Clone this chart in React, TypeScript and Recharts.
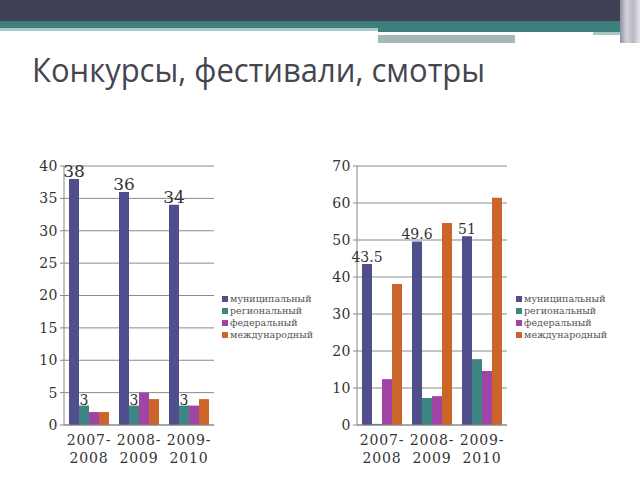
import { BarChart, Bar, XAxis, YAxis, CartesianGrid, Legend, LabelList } from 'recharts';

// categories (school years)
const years = ['2007-2008', '2008-2009', '2009-2010'];

// left chart: number of contests
const munCount = [38, 36, 34];
const regCount = [3, 3, 3];
const fedCount = [2, 5, 3];
const intCount = [2, 4, 4];
const leftTicks = [0, 5, 10, 15, 20, 25, 30, 35, 40];

// right chart: share / participants
const munShare = [43.5, 49.6, 51];
const regShare = [0.3, 7.3, 17.8];
const fedShare = [12.4, 7.8, 14.6];
const intShare = [38.1, 54.6, 61.4];
const rightTicks = [0, 10, 20, 30, 40, 50, 60, 70];

const seriesNames = ['муниципальный', 'региональный', 'федеральный', 'международный'];
const COLORS = ['#4f4f8b', '#3f8584', '#a045a6', '#cb652a'];

const leftData = years.map((y, i) => ({ year: y, mun: munCount[i], reg: regCount[i], fed: fedCount[i], int: intCount[i] }));
const rightData = years.map((y, i) => ({ year: y, mun: munShare[i], reg: regShare[i], fed: fedShare[i], int: intShare[i] }));

const serif = '"DejaVu Serif", serif';

function YearTick({ x, y, payload }: any) {
  const v: string = payload.value;
  const cut = v.indexOf('-') + 1;
  return (
    <text x={x} y={y} textAnchor="middle" style={{ fontFamily: serif, fontWeight: 300 }} fontSize={14} fill="#333" letterSpacing={0.8}>
      <tspan x={x} dy={12}>{v.slice(0, cut)}</tspan>
      <tspan x={x} dy={18}>{v.slice(cut)}</tspan>
    </text>
  );
}

function LegendBox() {
  return (
    <div style={{ fontFamily: serif, fontSize: 9.5, color: '#555', lineHeight: '12px' }}>
      {seriesNames.map((n, i) => (
        <div key={n} style={{ display: 'flex', alignItems: 'center', whiteSpace: 'nowrap' }}>
          <span style={{ width: 6, height: 6, background: COLORS[i], marginRight: 2, display: 'inline-block' }} />
          {n}
        </div>
      ))}
    </div>
  );
}

function Chart({ data, ticks, max, yWidth, legendLeft, bigLabel, smallLabels }: any) {
  return (
    <BarChart width={320} height={340} data={data} barCategoryGap="10%" barGap={0}
      margin={{ top: 26, right: 320 - yWidth - 150, bottom: 0, left: 0 }}>
      <CartesianGrid vertical={false} stroke="#8a8a8a" />
      <XAxis dataKey="year" height={55} tickLine={false} stroke="#888" tick={<YearTick />} interval={0} />
      <YAxis domain={[0, max]} ticks={ticks} width={yWidth} stroke="#888" tickSize={4}
        tick={{ style: { fontFamily: serif }, fontSize: 14, fill: '#333', letterSpacing: 0.5 }} />
      <Legend layout="vertical" align="center" verticalAlign="middle" content={<LegendBox />}
        wrapperStyle={{ left: legendLeft, top: 153, width: 100 }} />
      <Bar dataKey="mun" name={seriesNames[0]} fill={COLORS[0]} isAnimationActive={false}>
        <LabelList dataKey="mun" position="top" offset={2} style={{ fontFamily: serif }} fontSize={bigLabel} fill="#333" />
      </Bar>
      <Bar dataKey="reg" name={seriesNames[1]} fill={COLORS[1]} isAnimationActive={false}>
        {smallLabels && <LabelList dataKey="reg" position="top" offset={1} style={{ fontFamily: serif }} fontSize={14} fill="#333" />}
      </Bar>
      <Bar dataKey="fed" name={seriesNames[2]} fill={COLORS[2]} isAnimationActive={false} />
      <Bar dataKey="int" name={seriesNames[3]} fill={COLORS[3]} isAnimationActive={false} />
    </BarChart>
  );
}

function Header() {
  return (
    <>
      <div style={{ position: 'absolute', left: 0, top: 0, width: 620, height: 21, background: '#404156' }} />
      <div style={{ position: 'absolute', left: 620, top: 0, width: 20, height: 43, background: 'linear-gradient(90deg,#8f8fa0,#d4d4dc,#b8b8c4,#e6e6ec)' }} />
      <div style={{ position: 'absolute', left: 0, top: 21, width: 378, height: 7, background: '#3e7f7e' }} />
      <div style={{ position: 'absolute', left: 0, top: 28, width: 378, height: 3, background: '#abc8c7' }} />
      <div style={{ position: 'absolute', left: 378, top: 21, width: 242, height: 11, background: '#3e7f7e' }} />
      <div style={{ position: 'absolute', left: 378, top: 32, width: 215, height: 3, background: '#ffffff' }} />
      <div style={{ position: 'absolute', left: 593, top: 32, width: 27, height: 3, background: '#a8c8c8' }} />
      <div style={{ position: 'absolute', left: 378, top: 35, width: 137, height: 8, background: '#a3b9ba' }} />
    </>
  );
}

export default function App() {
  return (
    <div style={{ position: 'absolute', left: 0, top: 0, width: 640, height: 480, background: '#fff', overflow: 'hidden' }}>
      <Header />
      <svg style={{ position: 'absolute', left: 0, top: 0 }} width={640} height={100}>
        <text x={32} y={82} fontFamily='"Open Sans", sans-serif' fontSize={33} fill="#45454f"
          textLength={453} lengthAdjust="spacingAndGlyphs">Конкурсы, фестивали, смотры</text>
      </svg>
      <div style={{ position: 'absolute', left: 0, top: 140 }}>
        <Chart data={leftData} ticks={leftTicks} max={40} yWidth={64} legendLeft={222} bigLabel={17} smallLabels />
      </div>
      <div style={{ position: 'absolute', left: 300, top: 140 }}>
        <Chart data={rightData} ticks={rightTicks} max={70} yWidth={57} legendLeft={216} bigLabel={14} smallLabels={false} />
      </div>
    </div>
  );
}
